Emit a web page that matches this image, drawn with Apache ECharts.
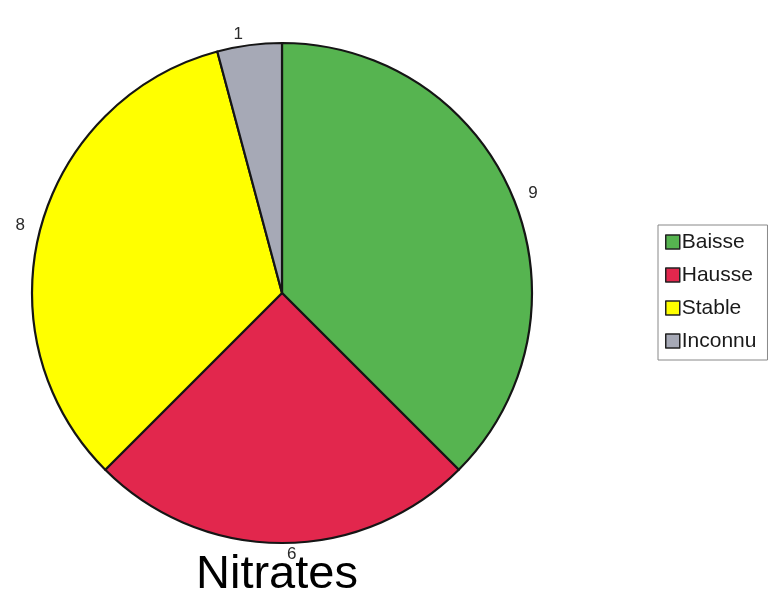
<!DOCTYPE html>
<html>
<head>
<meta charset="utf-8">
<script src="https://cdn.jsdelivr.net/npm/echarts@6/dist/echarts.min.js"></script>
<style>
html,body{margin:0;padding:0;background:#fff;}
#chart{width:773px;height:600px;}
</style>
</head>
<body>
<div id="chart"></div>
<script>
const categories = ['Baisse', 'Hausse', 'Stable', 'Inconnu'];
const values = [9, 6, 8, 1];
const colors = ['#56b450', '#e2274d', '#ffff00', '#a6a9b6'];
const titleText = 'Nitrates';

const chart = echarts.init(document.getElementById('chart'));
const font = '"Liberation Sans", Arial, sans-serif';
chart.setOption({
  animation: false,
  backgroundColor: '#fff',
  title: {
    text: titleText,
    left: 196,
    top: 552,
    padding: 0,
    textStyle: { fontFamily: font, fontSize: 47, fontWeight: 'normal', color: '#000' }
  },
  legend: {
    orient: 'vertical',
    left: 658,
    top: 225,
    padding: [6, 11, 8, 7],
    borderColor: '#888',
    borderWidth: 1,
    itemWidth: 14,
    itemHeight: 14,
    itemGap: 11,
    icon: 'rect',
    data: categories,
    itemStyle: { borderColor: '#222', borderWidth: 1.5 },
    textStyle: { fontFamily: font, fontSize: 21, color: '#1a1a1a', lineHeight: 22, padding: [0, 0, 0, -3] }
  },
  series: [{
    type: 'pie',
    center: [282, 293],
    radius: [0, 250],
    startAngle: 90,
    clockwise: true,
    avoidLabelOverlap: false,
    data: categories.map((c, i) => ({ name: c, value: values[i], itemStyle: { color: colors[i] } })),
    itemStyle: { borderColor: '#151515', borderWidth: 2.2 },
    label: {
      show: true,
      position: 'outside',
      formatter: '{c}',
      fontFamily: font,
      fontSize: 17,
      color: '#2a2a2a'
    },
    labelLine: { show: false, length: 11, length2: 0 },
    emphasis: { disabled: true }
  }]
});
</script>
</body>
</html>
